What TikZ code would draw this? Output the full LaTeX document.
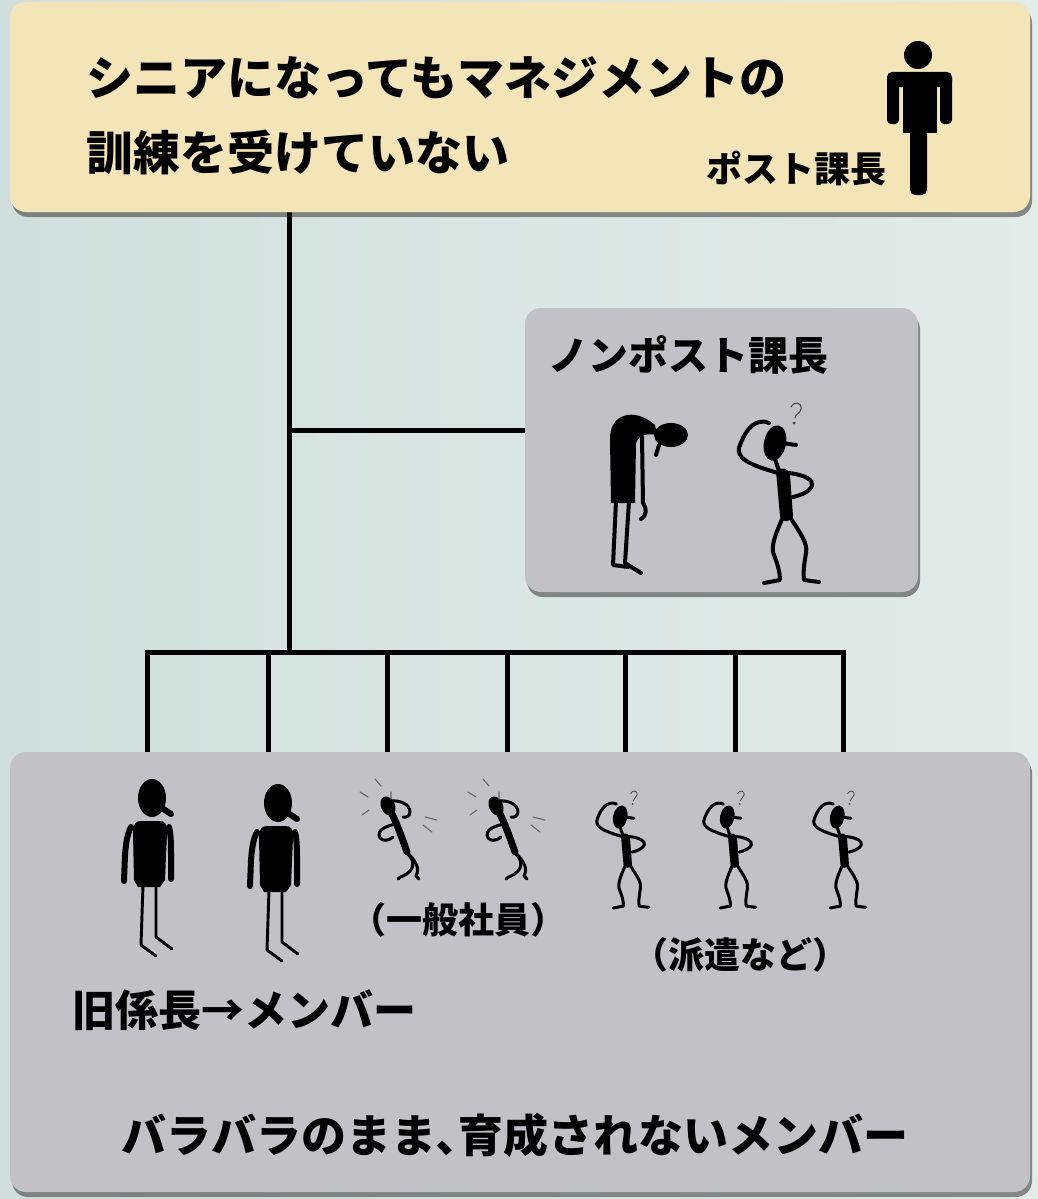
\documentclass[tikz,border=0pt]{standalone}
\usepackage{fontspec}
\newfontfamily\jp{Noto Sans CJK JP}
\usetikzlibrary{shadows,positioning,backgrounds}

\definecolor{bgleft}{RGB}{208,223,219}
\definecolor{bgright}{RGB}{226,236,233}
\definecolor{cream}{RGB}{244,229,184}
\definecolor{panel}{RGB}{193,193,198}

\tikzset{
  box/.style={fill=#1, rounded corners=16pt, inner sep=0pt,
    drop shadow={shadow xshift=2pt, shadow yshift=-5pt, opacity=.5, fill=black!85}},
  wire/.style={line width=5pt},
  jtext/.style={font=\jp\bfseries\fontsize{#1}{#1}\selectfont, inner sep=0pt},
  limb/.style={draw, line cap=round, line join=round},
  boss/.pic={
    \fill (0,0) circle [radius=14];
    \fill[rounded corners=5pt] (-31,17) rectangle (34,32);
    \fill[rounded corners=4pt] (-31,20) rectangle (-19,69);
    \fill[rounded corners=4pt] (22,20) rectangle (34,69);
    \fill (-15,20) rectangle (19,78);
    \fill[rounded corners=5pt] (-8,70) rectangle (9,140);
  },
  thinker/.pic={
    \fill (-15,-140) ellipse [x radius=11, y radius=18, rotate=-12];
    \draw[limb] (-8,-140) -- (6,-138);
    \draw[limb] (-15,-124) -- (-11,-112);
    \fill (-14,-112) .. controls (-8,-117) and (-2,-115) .. (0,-108) -- (3,-67)
      .. controls (0,-60) and (-8,-60) .. (-10,-67) -- cycle;
    \draw[limb] (-12,-110) .. controls (-40,-118) and (-56,-125) .. (-50,-138)
      .. controls (-45,-152) and (-35,-166) .. (-21,-160);
    \draw[limb] (-1,-110) .. controls (15,-108) and (24,-103) .. (22,-97)
      .. controls (20,-92) and (12,-88) .. (3,-86);
    \draw[limb] (-7,-66) .. controls (-14,-50) and (-20,-36) .. (-16,-28)
      .. controls (-12,-18) and (-10,-10) .. (-10,-3) -- (-26,0);
    \draw[limb] (0,-66) .. controls (10,-50) and (18,-40) .. (16,-30)
      .. controls (14,-18) and (13,-10) .. (14,-3) -- (29,-1);
    \draw[limb, line width=.5\pgflinewidth, black!75] (1,-176) .. controls (4,-182) and (12,-181) .. (11,-174)
      .. controls (10,-169) and (5,-169) .. (5,-165);
    \fill[black!75] (4,-160) circle [radius=1.5];
  },
  slumped/.pic={
    \fill (-14,-72) -- (-15,-135) .. controls (-16,-162) and (10,-168) .. (30,-150) -- (32,-140)
      .. controls (22,-142) and (14,-140) .. (11,-132) -- (10,-72) -- cycle;
    \fill (46,-140) ellipse [x radius=17, y radius=12];
    \draw[limb] (34,-130) -- (31,-120);
    \draw[limb] (17,-138) -- (18,-72) .. controls (22,-66) and (22,-60) .. (16,-56);
    \draw[limb] (-9,-74) -- (-12,-10) -- (3,-8);
    \draw[limb] (4,-74) -- (0,-12) -- (16,-2);
  },
  stander/.pic={
    \fill (0,-157) ellipse [x radius=14, y radius=19];
    \draw[limb] (10,-147) -- (19,-141);
    \fill (-19,-122) .. controls (-19,-132) and (-16,-134) .. (-10,-134) -- (7,-134)
      .. controls (13,-134) and (15,-132) .. (15,-122) -- (13,-75) -- (8,-68) -- (-14,-68) -- (-18,-75) -- cycle;
    \draw[limb] (-21,-128) .. controls (-25,-120) and (-26,-112) .. (-27,-100) -- (-28,-74);
    \draw[limb] (17,-128) .. controls (19,-120) and (19,-110) .. (19,-100) -- (19,-76);
    \draw[limb, line width=.7\pgflinewidth] (-9,-70) -- (-11,-10) -- (4,1);
    \draw[limb, line width=.7\pgflinewidth] (4,-70) -- (4,-18) -- (20,-6);
  },
  dancer/.pic={
    \fill (0,0) ellipse [x radius=7, y radius=10, rotate=25];
    \draw[limb, line width=7pt] (4,8) .. controls (10,20) and (15,35) .. (19,46);
    \draw[limb] (2,-5) .. controls (12,-6) and (22,-2) .. (22,6) .. controls (22,10) and (18,12) .. (15,11);
    \draw[limb] (8,18) .. controls (-2,20) and (-12,24) .. (-8,32) .. controls (-5,36) and (2,34) .. (5,31);
    \draw[limb] (18,46) .. controls (24,52) and (28,58) .. (22,65) .. controls (18,70) and (12,70) .. (10,73);
    \draw[limb] (20,47) .. controls (28,56) and (32,62) .. (28,70) -- (31,73);
    \draw[limb, line width=.6\pgflinewidth, black!60] (-13,-27) -- (-7,-20) (-28,-14) -- (-20,-9)
      (-26,9) -- (-19,4) (37,11) -- (49,14) (35,19) -- (44,26) (3,-14) -- (3,-7);
  },
}

\begin{document}
\begin{tikzpicture}[x=1pt, y=-1pt]
\useasboundingbox (0,0) rectangle (1038,1199);

\node[box=cream, minimum width=1020pt, minimum height=210pt] (post) at (520,107) {};
\node[box=panel, minimum width=393pt, minimum height=284pt] (nonpost) at (721.5,450) {};
\node[box=panel, minimum width=1020pt, minimum height=440pt] (members) at (520,972) {};

\node[jtext=47, anchor=west] (lead1) at (86,78) {シニアになってもマネジメントの};
\node[jtext=47, anchor=west] (lead2) at (86,152) {訓練を受けていない};
\node[jtext=36, anchor=west] (postlbl) at (706,168) {ポスト課長};
\pic at (918,55) {boss};

\node[jtext=40, anchor=west] (nonpostlbl) at (548,355) {ノンポスト課長};
\pic[line width=4pt] at (625,575) {slumped};
\pic[line width=4pt] at (790,583) {thinker};

\pic[line width=6pt] at (152,955) {stander};
\pic[line width=6pt] at (278,960) {stander};
\pic[line width=3pt] at (388,806) {dancer};
\pic[line width=3pt] at (496,806) {dancer};
\foreach \x in {630,737,847}
  \pic[scale=.65, line width=3pt] at (\x,908) {thinker};

\node[jtext=36] (regular) at (458,920) {（一般社員）};
\node[jtext=36] (dispatch) at (740,955) {（派遣など）};
\node[jtext=43, anchor=west] (former) at (72,1010) {旧係長→メンバー};
\node[jtext=45] (summary) at (515,1135) {バラバラのまま､育成されないメンバー};

\coordinate (hub) at (289,652);
\coordinate (tap) at (289,430);
\foreach \x [count=\i] in {147,268,387,507,625,735,843}
  \coordinate (drop\i) at (\x,652);

\begin{scope}[on background layer]
  \shade[left color=bgleft, right color=bgright] (0,0) rectangle (1038,1199);
  \draw[wire] (post.south -| hub) -- (hub);
  \draw[wire] (tap) -- (tap -| nonpost.west);
  \draw[wire, line cap=rect] (drop1) -- (drop7);
  \foreach \i in {1,...,7}
    \draw[wire] (drop\i) -- (drop\i |- members.north);
\end{scope}
\end{tikzpicture}
\end{document}
